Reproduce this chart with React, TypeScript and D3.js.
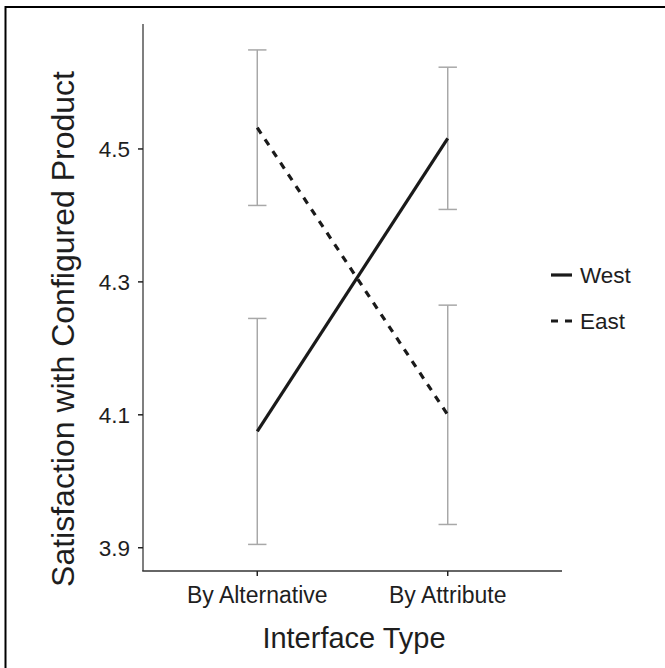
import * as d3 from 'd3';

// Interaction plot: satisfaction by interface type and region
const interfaceTypes = ['By Alternative', 'By Attribute'];
const regions = ['West', 'East'];
const westMeans = [4.075, 4.516];
const westLower = [3.905, 4.409];
const westUpper = [4.245, 4.623];
const eastMeans = [4.532, 4.1];
const eastLower = [4.415, 3.935];
const eastUpper = [4.649, 4.265];
const yTicks = [3.9, 4.1, 4.3, 4.5];

const W = 665;
const H = 668;
const FONT = '"Liberation Sans", Arial, Helvetica, sans-serif';
const TEXT = '#1e1e1e';

export default function App() {
  const x = d3.scalePoint<string>().domain(interfaceTypes).range([143, 562]).padding(0.6);
  const y = d3.scaleLinear().domain([3.865, 4.688]).range([571, 24]);

  const series = [
    { name: regions[0], means: westMeans, lo: westLower, hi: westUpper, dash: null },
    { name: regions[1], means: eastMeans, lo: eastLower, hi: eastUpper, dash: '7,7' },
  ];

  const line = d3.line<number>()
    .x((_, i) => x(interfaceTypes[i]) as number)
    .y(d => y(d));

  const capHalf = 9.2;
  const [x0, x1] = x.range();
  const [yb, yt] = y.range();

  return (
    <svg width={W} height={H} style={{ position: 'absolute', left: 0, top: 0, background: '#fff' }}
      fontFamily={FONT}>
      {/* frame (only top and left edges fall inside the picture) */}
      <rect x={5.5} y={7} width={800} height={800} fill="none" stroke="#000" strokeWidth={2} />

      {/* error bars */}
      {series.map(s => interfaceTypes.map((c, i) => {
        const cx = x(c) as number;
        return (
          <g key={s.name + c} stroke="#a8a8a8" strokeWidth={1.5}>
            <line x1={cx} x2={cx} y1={y(s.lo[i])} y2={y(s.hi[i])} />
            <line x1={cx - capHalf} x2={cx + capHalf} y1={y(s.lo[i])} y2={y(s.lo[i])} />
            <line x1={cx - capHalf} x2={cx + capHalf} y1={y(s.hi[i])} y2={y(s.hi[i])} />
          </g>
        );
      }))}

      {/* mean lines */}
      {series.map(s => (
        <path key={s.name} d={line(s.means) ?? ''} fill="none" stroke="#1a1a1a" strokeWidth={3.2}
          strokeDasharray={s.dash ?? undefined} />
      ))}

      {/* axes */}
      <line x1={x0} x2={x0} y1={yt} y2={yb} stroke="#555" strokeWidth={1.5} />
      <line x1={x0 - 0.75} x2={x1} y1={yb} y2={yb} stroke="#333" strokeWidth={1.5} />

      {yTicks.map(t => (
        <g key={t} transform={`translate(0,${y(t)})`}>
          <line x1={x0 - 5} x2={x0} stroke="#222" strokeWidth={1.5} />
          <text x={x0 - 13} dy="0.36em" textAnchor="end" fontSize={22.5} fill={TEXT}>{t.toFixed(1)}</text>
        </g>
      ))}

      {interfaceTypes.map(c => (
        <g key={c} transform={`translate(${x(c)},0)`}>
          <line y1={yb} y2={yb + 5} stroke="#222" strokeWidth={1.5} />
          <text y={603} textAnchor="middle" fontSize={23} fill={TEXT}>{c}</text>
        </g>
      ))}

      {/* axis titles */}
      <text x={354} y={648} textAnchor="middle" fontSize={29} fill={TEXT}>Interface Type</text>
      <text transform={`translate(74,${H / 2 - 5}) rotate(-90)`} textAnchor="middle" fontSize={32}
        fill={TEXT}>Satisfaction with Configured Product</text>

      {/* legend */}
      {series.map((s, i) => {
        const ly = 275 + i * 46;
        return (
          <g key={s.name}>
            <line x1={551} x2={572} y1={ly} y2={ly} stroke="#1a1a1a" strokeWidth={3.2}
              strokeDasharray={s.dash ?? undefined} />
            <text x={580} y={ly} dy="0.36em" fontSize={22.5} fill={TEXT}>{s.name}</text>
          </g>
        );
      })}
    </svg>
  );
}
